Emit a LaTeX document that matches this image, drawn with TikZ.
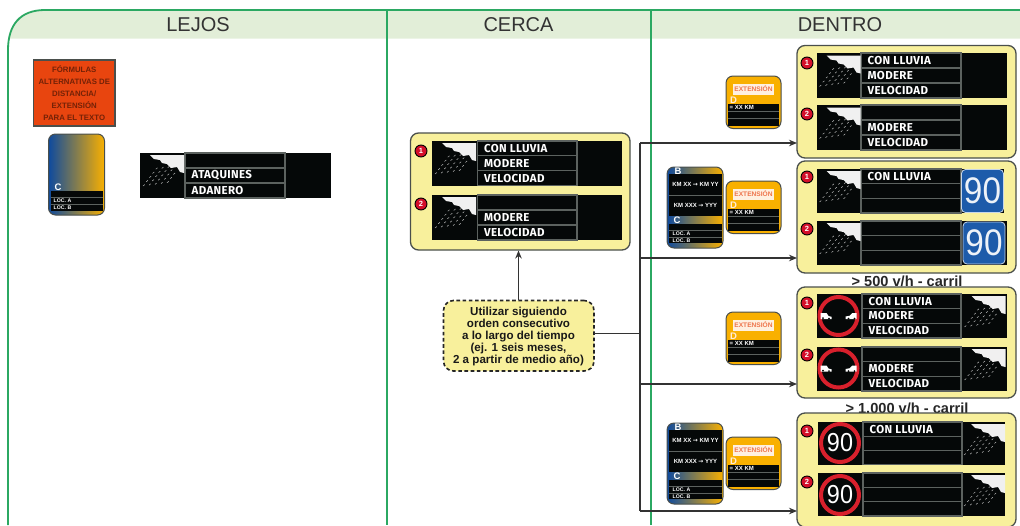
\documentclass[tikz,border=0pt]{standalone}
\usepackage{fontspec}
\setmainfont{Liberation Sans}
\newfontfamily\signfont[LetterSpace=3]{Fira Sans}
\newfontfamily\arrowfont{DejaVu Sans}
\usetikzlibrary{arrows.meta,calc}
\definecolor{framegreen}{HTML}{2BA862}
\definecolor{bandgreen}{HTML}{E2EED8}
\definecolor{panelyellow}{HTML}{F8F09C}
\definecolor{edgegray}{HTML}{4A4F4C}
\definecolor{cellgray}{HTML}{5C625F}
\definecolor{signblack}{HTML}{050808}
\definecolor{signorange}{HTML}{F9B000}
\definecolor{signblue}{HTML}{0E4A9E}
\definecolor{ringred}{HTML}{D8202C}
\definecolor{badgered}{HTML}{D40F2A}
\definecolor{plateblue}{HTML}{1D5BAA}
\definecolor{warnorange}{HTML}{E8450F}
\tikzset{
 x=1pt,y=-1pt,
 panelbox/.style={draw=edgegray,line width=1.3pt,fill=panelyellow,rounded corners=8pt,inner sep=0pt,outer sep=0pt},
 dashbox/.style={draw=black!85,line width=1.6pt,dash pattern=on 3.6pt off 2.6pt,fill=panelyellow,rounded corners=10pt,inner sep=0pt,outer sep=0pt},
 blackbox/.style={fill=signblack,draw=none,inner sep=0pt,outer sep=0pt},
 cellbox/.style={draw=cellgray,line width=1.1pt,fill=signblack,inner sep=0pt,outer sep=0pt},
 signtext/.style={text=white,font=\fontsize{11.5}{12}\signfont\bfseries,anchor=west,inner sep=0pt},
 badge/.style={circle,fill=badgered,draw=black,line width=.9pt,minimum size=12pt,inner sep=0pt,text=white,font=\fontsize{7.5}{7.5}\selectfont\bfseries},
 headtext/.style={text=black!80,font=\fontsize{20}{22}\selectfont,inner sep=0pt},
 flowarrow/.style={draw=black!80,line width=1.8pt,-{Stealth[length=8pt,width=6.5pt]}},
 flowline/.style={draw=black!80,line width=1.8pt},
 tinytext/.style={text=white,font=\fontsize{5.2}{5.2}\selectfont\bfseries,inner sep=0pt},
 kmtext/.style={text=white,font=\fontsize{6}{6}\selectfont\bfseries,inner sep=0pt},
 lettertext/.style={text=white,font=\fontsize{9.5}{9.5}\selectfont\bfseries,inner sep=0pt},
 smallpanel/.style={draw=edgegray,line width=1pt,rounded corners=7pt,inner sep=0pt,outer sep=0pt},
 ring/.style={circle,draw=ringred,line width=4pt,minimum size=38pt,inner sep=0pt,outer sep=0pt,text=white},
 carriltext/.style={text=black!85,font=\fontsize{14.6}{15}\selectfont\bfseries,inner sep=0pt},
 rain/.pic={
  \fill[black!6] (10,2)--(44,2)--(44,20)--(40,19)--(37,14)--(31,15)--(27,11)--(22,10)--(20,7)--(14,6)--cycle;
  \foreach \r in {0,...,4}{\foreach \c in {0,...,4}{
    \pgfmathtruncatemacro{\show}{(\r+\c<7)?1:0}
    \ifnum\show=1
    \draw[black!28,line width=.5pt] ({3+\r*3.2+\c*6},{33-\r*4.2-\c*.8}) -- ++(1.7,-1.4);
    \fi}}
 },
}
\newcommand{\rectnode}[6][]{%
 \node[#1,minimum width={((#5)-(#3))*1pt},minimum height={((#6)-(#4))*1pt}] (#2) at ({((#3)+(#5))/2},{((#4)+(#6))/2}) {};}
% name x0 y0 x1 y1 xa xb t1 t2 t3
\newcommand{\vmssign}[9]{%
 \rectnode[blackbox]{#1}{#2}{#3}{#4}{#5}%
 \pgfmathsetmacro{\rowh}{(#5-#3)/3}%
 \pgfmathsetmacro{\rowa}{#3+\rowh}\pgfmathsetmacro{\rowb}{#3+2*\rowh}%
 \vmscells{#1}{#3}{#5}{#6}{#7}{\rowa}{\rowb}{#8}{#9}}
\newcommand{\vmscells}[9]{%
 \rectnode[cellbox]{#1-a}{#4}{#2}{#5}{#6}%
 \rectnode[cellbox]{#1-b}{#4}{#6}{#5}{#7}%
 \rectnode[cellbox]{#1-c}{#4}{#7}{#5}{#3}%
 \node[signtext] (#1-ta) at ([xshift=6.5pt]#1-a.west) {#8};%
 \node[signtext] (#1-tb) at ([xshift=6.5pt]#1-b.west) {#9};%
 \vmsthird{#1}}
\newcommand{\vmsthird}[2]{\node[signtext] (#1-tc) at ([xshift=6.5pt]#1-c.west) {#2};}
\newcommand{\extpanel}[2]{%
 \pgfmathsetmacro{\yy}{#2}%
 \rectnode[smallpanel,fill=signorange]{#1}{726}{\yy}{781}{\yy+52.5}%
 \rectnode[fill=white!88!orange,inner sep=0pt]{#1-l}{733}{\yy+7.5}{774}{\yy+18.5}%
 \node[text=warnorange!75!white,font=\fontsize{6.6}{7}\selectfont\bfseries,inner sep=0pt] (#1-t) at (#1-l) {EXTENSIÓN};%
 \node[lettertext,anchor=west,text=white!85!orange] (#1-d) at (730,\yy+24.5) {D};%
 \rectnode[blackbox]{#1-r}{728}{\yy+28}{779}{\yy+49.5}%
 \draw[cellgray,line width=.7pt] (728,\yy+35) -- (779,\yy+35) (728,\yy+42) -- (779,\yy+42);%
 \node[kmtext,anchor=west] (#1-k) at (729.5,\yy+31.5) {= XX KM};}
\newcommand{\bcpanel}[2]{%
 \pgfmathsetmacro{\yy}{#2}%
 \shade[left color=signblue,right color=signorange,rounded corners=7pt,draw=edgegray,line width=1pt] (667,\yy) rectangle (723,\yy+81);%
 \rectnode[blackbox]{#1-u}{669}{\yy+7}{721.5}{\yy+49}%
 \rectnode[blackbox]{#1-v}{669}{\yy+57}{721.5}{\yy+76}%
 \draw[cellgray,line width=.9pt] (669,\yy+28) -- (721.5,\yy+28) (669,\yy+63) -- (721.5,\yy+63) (669,\yy+70) -- (721.5,\yy+70);%
 \node[lettertext] (#1-b) at (678,\yy+4) {B};%
 \node[lettertext] (#1-c) at (677,\yy+53) {C};%
 \node[kmtext] (#1-k1) at (695.5,\yy+17.5) {KM XX {\arrowfont→} KM YY};%
 \node[kmtext] (#1-k2) at (695.5,\yy+38.5) {KM XXX {\arrowfont→} YYY};%
 \node[tinytext,anchor=west] (#1-l1) at (672.5,\yy+66.8) {LOC. A};%
 \node[tinytext,anchor=west] (#1-l2) at (672.5,\yy+73.3) {LOC. B};}
\newcommand{\carpair}[2]{%
 \begin{scope}[shift={(#1,#2)}]
 \fill[white] (-18,-3.5)--(-12,-3.5)--(-10,-.5)--(-7,.3)--(-7,2.5)--(-18,2.5)--cycle;
 \fill[signblack] (-15.5,1.6) circle (1) (-9.5,2.2) circle (1);
 \fill[white] (7,2.5)--(7,0)--(11,-.7)--(14,-3.5)--(18,-3.5)--(18,2.5)--cycle;
 \fill[signblack] (10,2.2) circle (1) (16,2.2) circle (1);
 \end{scope}}
\begin{document}
\begin{tikzpicture}
\useasboundingbox (0,0) rectangle (1020,525);
\clip (0,0) rectangle (1020,525);
% frame
\fill[bandgreen] (8,38.5) -- (8,50) .. controls (8,25) and (20,10) .. (45,10) -- (1020,10) -- (1020,38.5) -- cycle;
\draw[framegreen,line width=1.8pt] (8,525) -- (8,50) .. controls (8,25) and (20,10) .. (45,10) -- (1020,10);
\draw[framegreen,line width=1.8pt] (387.2,10) -- (387.2,525) (651,10) -- (651,525);
\node[headtext] (h1) at (198,25) {LEJOS};
\node[headtext] (h2) at (518.5,25) {CERCA};
\node[headtext] (h3) at (840,25) {DENTRO};
% LEJOS
\rectnode[fill=warnorange,draw=edgegray,line width=1.2pt]{warn}{33.5}{60}{115}{126}
\node[text=black!50!warnorange,align=center,inner sep=0pt,font=\fontsize{7.8}{11.85}\selectfont\bfseries] (warnt) at (warn) {FÓRMULAS\\ALTERNATIVAS DE\\DISTANCIA/\\EXTENSIÓN\\PARA EL TEXTO};
\shade[left color=signblue,right color=signorange,rounded corners=7pt,draw=edgegray,line width=1pt] (48.5,134) rectangle (104.5,215);
\node[lettertext] (lc) at (58,187.5) {C};
\rectnode[blackbox]{lr}{50.5}{190.5}{102.5}{211}
\draw[cellgray,line width=.9pt] (50.5,197.5) -- (102.5,197.5) (50.5,204) -- (102.5,204);
\node[tinytext,anchor=west] (la) at (53.5,201) {LOC. A};
\node[tinytext,anchor=west] (lb) at (53.5,207.7) {LOC. B};
\vmssign{s0}{140}{153}{331}{198}{185}{285}{}{ATAQUINES}{ADANERO}
\pic at (140,153) {rain};
% CERCA
\rectnode[panelbox]{pc}{410.5}{133}{630}{250}
\vmssign{c1}{432}{141}{622}{185.5}{477.5}{577}{CON LLUVIA}{MODERE}{VELOCIDAD}
\pic at (432,141) {rain};
\vmssign{c2}{432}{195}{622}{240}{477.5}{577}{}{MODERE}{VELOCIDAD}
\pic at (432,195) {rain};
\node[badge] (cb1) at (421,151) {1};
\node[badge] (cb2) at (421,204) {2};
\rectnode[dashbox]{dash}{443.5}{300.5}{594}{371}
\node[text=black!90,align=center,inner sep=0pt,font=\fontsize{11.6}{12.1}\selectfont\bfseries] (dasht) at (518.5,336.5) {Utilizar siguiendo\\orden consecutivo\\a lo largo del tiempo\\(ej. 1 seis meses,\\2 a partir de medio año)};
\draw[flowarrow] (518.5,300) -- (518.5,250.5);
% DENTRO labels
\node[carriltext] (l500) at (907,281) {> 500 v/h - carril};
\node[carriltext] (l1000) at (907,408) {> 1.000 v/h - carril};
% panel 1
\rectnode[panelbox]{p1}{797}{45.5}{1016}{158}
\vmssign{a1}{817}{53}{1007}{98}{861}{961}{CON LLUVIA}{MODERE}{VELOCIDAD}
\pic at (816.5,53.5) {rain};
\vmssign{a2}{817}{105}{1007}{150}{861}{961}{}{MODERE}{VELOCIDAD}
\pic at (816.5,105.5) {rain};
\node[badge] at (807,63) (ab1) {1};
\node[badge] at (807,114) (ab2) {2};
% panel 2
\rectnode[panelbox]{p2}{797}{161}{1016}{273}
\vmssign{b1}{817}{169}{1004}{213}{861}{961}{CON LLUVIA}{}{}
\pic at (816.5,169) {rain};
\vmssign{b2}{817}{221}{1007}{265}{861}{961}{}{}{}
\pic at (816.5,221) {rain};
\rectnode[fill=plateblue,draw=white!75!plateblue,line width=.8pt,rounded corners=4pt]{pl1}{961.5}{169.5}{1003.5}{212.5}
\node[text=white!92!plateblue,font=\fontsize{37}{37}\selectfont,inner sep=0pt,xscale=.9] (pl1t) at (pl1) {90};
\rectnode[fill=plateblue,draw=white!75!plateblue,line width=.8pt,rounded corners=4pt]{pl2}{963}{222}{1005}{264}
\node[text=white!92!plateblue,font=\fontsize{37}{37}\selectfont,inner sep=0pt,xscale=.9] (pl2t) at (pl2) {90};
\node[badge] (bb1) at (807,177) {1};
\node[badge] (bb2) at (807,229) {2};
% panel 3
\rectnode[panelbox]{p3}{797}{287}{1016}{398}
\vmssign{d1}{817}{294}{1007}{338}{862}{961}{CON LLUVIA}{MODERE}{VELOCIDAD}
\pic at (961.5,294) {rain};
\vmssign{d2}{817}{347}{1007}{391}{862}{961}{}{MODERE}{VELOCIDAD}
\pic at (961.5,347) {rain};
\node[ring] (r1) at (838.5,316) {};
\carpair{838.5}{316.5}
\node[ring] (r2) at (838.5,368.5) {};
\carpair{838.5}{369}
\node[badge] (db1) at (807,303) {1};
\node[badge] (db2) at (807,355) {2};
% panel 4
\rectnode[panelbox]{p4}{797}{413}{1016}{527}
\vmssign{e1}{818}{422}{1005}{464.5}{863}{962}{CON LLUVIA}{}{}
\pic at (961,422) {rain};
\vmssign{e2}{818}{473}{1005}{516}{863}{962}{}{}{}
\pic at (961,473) {rain};
\node[ring,minimum size=38pt,font=\fontsize{26}{26}\selectfont] (r3) at (840,443) {\scalebox{.9}[1]{90}};
\node[ring,minimum size=38pt,font=\fontsize{26}{26}\selectfont] (r4) at (840,495) {\scalebox{.9}[1]{90}};
\node[badge] (eb1) at (807,431) {1};
\node[badge] (eb2) at (807,482) {2};
% side panels
\extpanel{x1}{76}
\extpanel{x2}{181}
\extpanel{x3}{312}
\extpanel{x4}{437}
\bcpanel{y1}{167}
\bcpanel{y2}{423}
% connectors
\coordinate (bus) at (640,333.5);
\coordinate (t1) at (640,143);
\coordinate (t2) at (640,258);
\coordinate (t3) at (640,384);
\coordinate (t4) at (640,511);
\draw[flowline] (dash.east |- bus) -- (bus);
\draw[flowline] (t1) -- (t4);
\draw[flowarrow] (t1) -- (t1 -| p1.west);
\draw[flowarrow] (t2) -- (t2 -| p2.west);
\draw[flowarrow] (t3) -- (t3 -| p3.west);
\draw[flowarrow] (t4) -- (t4 -| p4.west);
\end{tikzpicture}
\end{document}
